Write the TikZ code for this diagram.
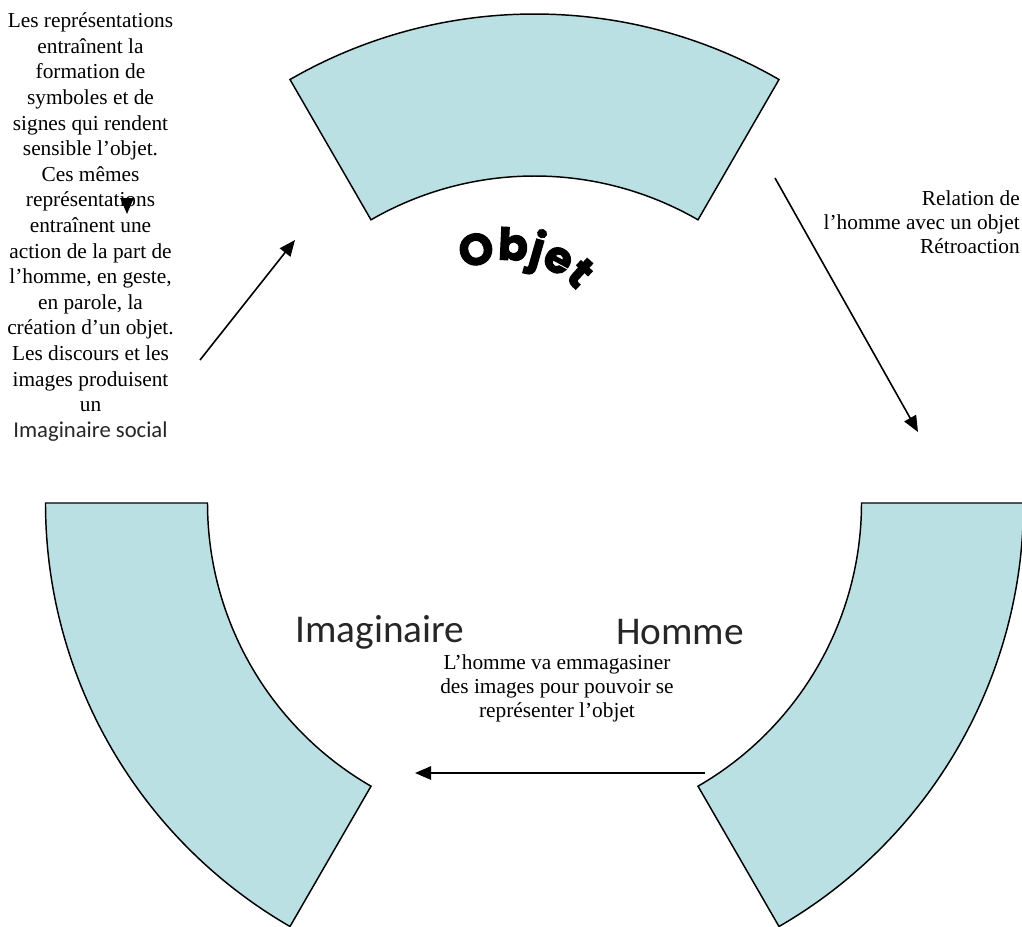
\documentclass[tikz,border=0pt]{standalone}
\usepackage{fontspec}
\setmainfont{Liberation Serif}
\newfontfamily\labelfont{Carlito}
\newfontfamily\objfont{Poppins}[FakeBold=2.5]
\usetikzlibrary{arrows.meta,decorations.text}
\definecolor{segfill}{RGB}{186,224,227}
\begin{document}
\begin{tikzpicture}[x=0.75pt,y=-0.75pt,
  seg/.style={fill=segfill,draw=black,line width=1.1pt,line join=miter},
  link/.style={draw=black,line width=1.2pt,-{Triangle[length=12pt,width=10pt]}},
  note/.style={font=\fontsize{16}{18}\selectfont,align=center,inner sep=0pt},
  title/.style={font=\labelfont\fontsize{29.5}{30}\selectfont,inner sep=0pt,text=black!85}]
\useasboundingbox (0,0) rectangle (1022,926);
\coordinate (C) at (534.5,503);
% three segments of one ring
\draw[seg] ([shift={(-120:489)}]C) arc[start angle=-120,end angle=-60,radius=489]
  -- ([shift={(-60:327)}]C) arc[start angle=-60,end angle=-120,radius=327] -- cycle;
\draw[seg] ([shift={(180:489)}]C) arc[start angle=180,end angle=120,radius=489]
  -- ([shift={(120:327)}]C) arc[start angle=120,end angle=180,radius=327] -- cycle;
\draw[seg] ([shift={(0:489)}]C) arc[start angle=0,end angle=60,radius=489]
  -- ([shift={(60:327)}]C) arc[start angle=60,end angle=0,radius=327] -- cycle;
% arched title
\coordinate (OC) at (508,352);
\path[decorate,decoration={text along path,text align=center,
  text={|\objfont\bfseries\fontsize{33}{33}\selectfont|Objet}}]
  ([shift={(-125:92)}]OC) arc[start angle=-125,end angle=-35,radius=92];
% labels
\node[title] (imag) at (380,632) {Imaginaire};
\node[title] (homme) at (680,632) {Homme};
\node[note,font=\fontsize{16}{19.2}\selectfont] (leftnote) at (90.5,227)
  {Les représentations\\entraînent la\\formation de\\symboles et de\\signes qui rendent\\sensible l’objet.\\Ces mêmes\\représentations\\entraînent une\\action de la part de\\l’homme, en geste,\\en parole, la\\création d’un objet.\\Les discours et les\\images produisent\\un\\{\labelfont\color{black!85}\fontsize{17}{19.2}\selectfont Imaginaire social}};
\node[note,align=right,anchor=east] (rightnote) at (1020,222)
  {Relation de\\l’homme avec un objet\\Rétroaction};
\node[note] (bottomnote) at (557,688)
  {L’homme va emmagasiner\\des images pour pouvoir se\\représenter l’objet};
% connectors
\coordinate (l1) at (200,360); \coordinate (l2) at (295,240);
\coordinate (r1) at (775,178); \coordinate (r2) at (918,432);
\coordinate (b1) at (705,773); \coordinate (b2) at (415,773);
\coordinate (s1) at (127,198); \coordinate (s2) at (127,214);
\draw[link] (l1) -- (l2);
\draw[link] (r1) -- (r2);
\draw[link] (b1) -- (b2);
\draw[link] (s1) -- (s2);
\end{tikzpicture}
\end{document}
